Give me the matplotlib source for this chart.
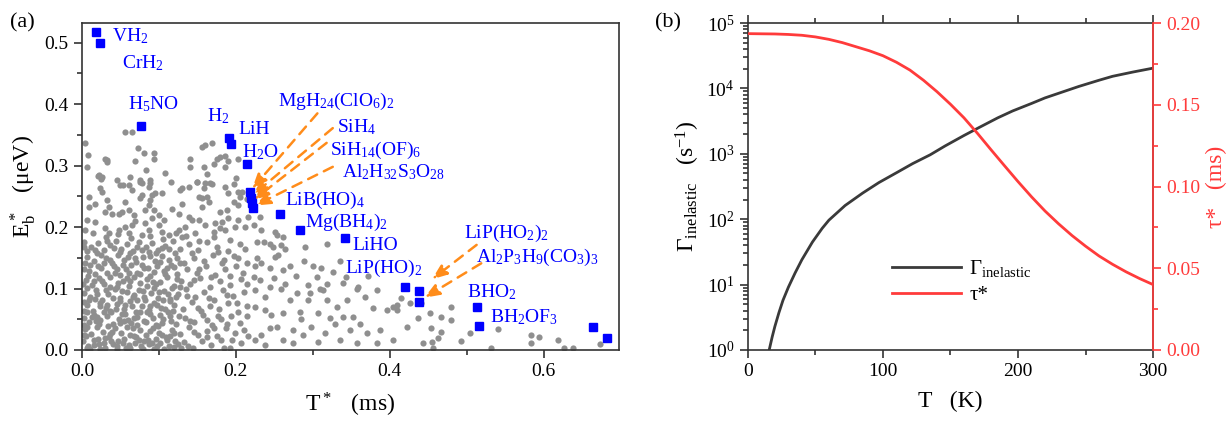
import numpy as np
import matplotlib
matplotlib.use('Agg')
import matplotlib.pyplot as plt
from matplotlib.ticker import MultipleLocator, LogLocator, NullFormatter, FormatStrFormatter

plt.rcParams['font.family'] = ['Liberation Serif', 'DejaVu Serif']
plt.rcParams['mathtext.fontset'] = 'custom'
plt.rcParams['mathtext.rm'] = 'Liberation Serif'
plt.rcParams['mathtext.it'] = 'Liberation Serif:italic'
plt.rcParams['mathtext.bf'] = 'Liberation Serif:bold'

# ---- panel (a): background candidates ----
bg_pts = [
    # upper left
    (0.004, 0.336), (0.008, 0.317), (0.006, 0.298), (0.021, 0.283), (0.025, 0.278), (0.032, 0.309),
    (0.056, 0.355), (0.065, 0.355), (0.073, 0.328), (0.080, 0.320), (0.093, 0.320), (0.069, 0.307),
    (0.083, 0.293), (0.093, 0.310), (0.108, 0.288), (0.062, 0.281), (0.075, 0.273), (0.088, 0.272),
    (0.116, 0.273), (0.053, 0.268), (0.046, 0.277), (0.140, 0.310), (0.140, 0.298), (0.130, 0.263),
    (0.150, 0.273), (0.156, 0.330), (0.160, 0.334), (0.169, 0.336), (0.158, 0.298), (0.162, 0.287),
    (0.171, 0.302), (0.175, 0.311), (0.179, 0.314), (0.186, 0.315), (0.190, 0.307), (0.186, 0.298),
    (0.169, 0.270), (0.186, 0.265), (0.203, 0.310), (0.200, 0.280), (0.198, 0.270), (0.190, 0.255),
    (0.203, 0.257), (0.030, 0.310), (0.032, 0.306), (0.022, 0.284), (0.026, 0.282),
    # middle left
    (0.024, 0.263), (0.026, 0.257), (0.009, 0.249), (0.009, 0.233), (0.017, 0.238), (0.032, 0.244),
    (0.035, 0.233), (0.030, 0.225), (0.039, 0.222), (0.017, 0.209), (0.006, 0.211), (0.004, 0.195),
    (0.030, 0.198), (0.035, 0.190), (0.050, 0.269), (0.061, 0.268), (0.056, 0.241), (0.052, 0.225),
    (0.061, 0.228), (0.048, 0.222), (0.067, 0.219), (0.069, 0.210), (0.065, 0.203), (0.056, 0.200),
    (0.048, 0.195), (0.061, 0.190), (0.076, 0.276), (0.078, 0.271), (0.089, 0.277), (0.087, 0.266),
    (0.065, 0.260), (0.078, 0.252), (0.076, 0.247), (0.091, 0.252), (0.095, 0.255), (0.104, 0.255),
    (0.089, 0.244), (0.087, 0.236), (0.082, 0.228), (0.093, 0.228), (0.100, 0.219), (0.091, 0.214),
    (0.082, 0.206), (0.100, 0.203), (0.106, 0.211), (0.087, 0.195), (0.104, 0.192), (0.078, 0.187),
    (0.117, 0.230), (0.126, 0.222), (0.128, 0.261), (0.139, 0.266), (0.130, 0.238), (0.139, 0.217),
    (0.143, 0.211), (0.134, 0.200), (0.126, 0.195), (0.152, 0.249), (0.156, 0.247), (0.162, 0.249),
    (0.165, 0.241), (0.149, 0.274), (0.160, 0.271), (0.167, 0.272), (0.158, 0.263), (0.156, 0.233),
    (0.152, 0.211), (0.160, 0.203), (0.180, 0.225), (0.188, 0.228), (0.197, 0.241), (0.206, 0.249),
    (0.208, 0.257), (0.203, 0.236), (0.214, 0.246), (0.203, 0.211), (0.190, 0.214), (0.182, 0.209),
    (0.173, 0.206), (0.180, 0.198), (0.186, 0.195), (0.199, 0.200), (0.212, 0.200), (0.216, 0.217),
    (0.171, 0.192), (0.147, 0.190), (0.113, 0.187), (0.130, 0.184),
    # dense lower left
    (0.003, 0.176), (0.012, 0.168), (0.021, 0.174), (0.028, 0.163), (0.036, 0.171), (0.044, 0.177),
    (0.051, 0.165), (0.058, 0.172), (0.066, 0.161), (0.074, 0.176), (0.083, 0.168), (0.091, 0.174),
    (0.099, 0.162), (0.108, 0.170), (0.118, 0.177), (0.127, 0.165), (0.139, 0.172), (0.151, 0.163),
    (0.163, 0.175), (0.176, 0.168), (0.190, 0.161), (0.205, 0.173), (0.212, 0.165),
    (0.006, 0.152), (0.015, 0.145), (0.019, 0.158), (0.031, 0.149), (0.039, 0.141), (0.047, 0.155),
    (0.055, 0.146), (0.062, 0.157), (0.070, 0.143), (0.079, 0.151), (0.087, 0.159), (0.095, 0.144),
    (0.104, 0.153), (0.113, 0.147), (0.121, 0.158), (0.133, 0.142), (0.145, 0.150), (0.158, 0.145),
    (0.170, 0.155), (0.184, 0.147), (0.197, 0.153), (0.215, 0.142),
    (0.002, 0.131), (0.010, 0.138), (0.017, 0.124), (0.025, 0.133), (0.033, 0.126), (0.041, 0.137),
    (0.049, 0.122), (0.057, 0.131), (0.064, 0.139), (0.072, 0.125), (0.081, 0.134), (0.089, 0.121),
    (0.097, 0.136), (0.106, 0.128), (0.116, 0.138), (0.124, 0.123), (0.137, 0.132), (0.149, 0.126),
    (0.161, 0.137), (0.173, 0.122), (0.186, 0.131), (0.200, 0.137), (0.209, 0.125),
    (0.005, 0.114), (0.013, 0.105), (0.022, 0.117), (0.029, 0.108), (0.037, 0.119), (0.045, 0.102),
    (0.053, 0.112), (0.061, 0.104), (0.068, 0.118), (0.076, 0.109), (0.085, 0.115), (0.093, 0.101),
    (0.102, 0.111), (0.110, 0.119), (0.119, 0.104), (0.129, 0.113), (0.141, 0.107), (0.154, 0.117),
    (0.167, 0.103), (0.179, 0.112), (0.193, 0.106), (0.207, 0.116),
    (0.003, 0.093), (0.011, 0.086), (0.018, 0.097), (0.026, 0.082), (0.034, 0.091), (0.043, 0.099),
    (0.050, 0.084), (0.059, 0.094), (0.066, 0.087), (0.074, 0.098), (0.082, 0.081), (0.090, 0.092),
    (0.099, 0.085), (0.107, 0.096), (0.115, 0.083), (0.125, 0.091), (0.135, 0.099), (0.147, 0.086),
    (0.159, 0.094), (0.171, 0.082), (0.183, 0.097), (0.196, 0.088), (0.210, 0.095),
    (0.007, 0.073), (0.014, 0.064), (0.023, 0.077), (0.031, 0.068), (0.038, 0.061), (0.046, 0.075),
    (0.054, 0.066), (0.063, 0.079), (0.070, 0.062), (0.078, 0.071), (0.087, 0.065), (0.094, 0.077),
    (0.103, 0.069), (0.112, 0.061), (0.120, 0.074), (0.131, 0.067), (0.143, 0.078), (0.155, 0.063),
    (0.166, 0.072), (0.178, 0.066), (0.190, 0.076), (0.203, 0.062), (0.214, 0.071),
    (0.002, 0.052), (0.009, 0.045), (0.016, 0.057), (0.024, 0.048), (0.032, 0.055), (0.040, 0.042),
    (0.048, 0.051), (0.056, 0.058), (0.064, 0.044), (0.071, 0.053), (0.080, 0.047), (0.088, 0.059),
    (0.096, 0.041), (0.105, 0.050), (0.114, 0.056), (0.122, 0.043), (0.134, 0.052), (0.146, 0.046),
    (0.157, 0.057), (0.169, 0.041), (0.181, 0.050), (0.194, 0.055), (0.206, 0.044),
    (0.004, 0.034), (0.012, 0.026), (0.019, 0.037), (0.027, 0.029), (0.035, 0.021), (0.043, 0.035),
    (0.051, 0.027), (0.058, 0.038), (0.067, 0.023), (0.075, 0.032), (0.083, 0.025), (0.092, 0.036),
    (0.100, 0.028), (0.109, 0.021), (0.117, 0.033), (0.128, 0.026), (0.139, 0.037), (0.151, 0.024),
    (0.163, 0.031), (0.175, 0.022), (0.187, 0.035), (0.199, 0.027), (0.211, 0.033),
    (0.001, 0.014), (0.008, 0.006), (0.015, 0.017), (0.022, 0.009), (0.030, 0.003), (0.038, 0.015),
    (0.046, 0.007), (0.054, 0.018), (0.062, 0.004), (0.069, 0.012), (0.077, 0.006), (0.086, 0.016),
    (0.094, 0.002), (0.102, 0.011), (0.111, 0.017), (0.120, 0.005), (0.132, 0.013), (0.144, 0.003),
    (0.156, 0.015), (0.168, 0.008), (0.181, 0.017), (0.193, 0.004), (0.207, 0.012),
    (0.007, 0.161), (0.025, 0.155), (0.042, 0.166), (0.060, 0.151), (0.078, 0.162), (0.096, 0.157),
    (0.113, 0.164), (0.004, 0.142), (0.021, 0.136), (0.037, 0.146), (0.053, 0.138), (0.069, 0.149),
    (0.086, 0.133), (0.102, 0.143), (0.119, 0.135), (0.008, 0.121), (0.026, 0.113), (0.043, 0.126),
    (0.059, 0.117), (0.076, 0.123), (0.092, 0.111), (0.108, 0.124), (0.124, 0.116), (0.006, 0.101),
    (0.020, 0.091), (0.036, 0.103), (0.052, 0.096), (0.068, 0.089), (0.084, 0.104), (0.100, 0.094),
    (0.117, 0.101), (0.003, 0.078), (0.017, 0.083), (0.033, 0.073), (0.049, 0.079), (0.065, 0.071),
    (0.081, 0.086), (0.098, 0.074), (0.114, 0.080), (0.006, 0.062), (0.020, 0.054), (0.036, 0.064),
    (0.052, 0.059), (0.068, 0.052), (0.085, 0.061), (0.101, 0.057), (0.118, 0.064), (0.003, 0.041),
    (0.018, 0.047), (0.034, 0.039), (0.050, 0.044), (0.066, 0.036), (0.083, 0.045), (0.099, 0.039),
    (0.116, 0.047), (0.005, 0.022), (0.021, 0.018), (0.037, 0.026), (0.053, 0.011), (0.070, 0.021),
    (0.087, 0.009), (0.104, 0.024), (0.121, 0.014), (0.011, 0.002), (0.028, 0.012), (0.045, 0.001),
    (0.061, 0.008), (0.079, 0.002), (0.096, 0.018), (0.113, 0.006),
    (0.014, 0.191), (0.031, 0.184), (0.047, 0.188), (0.064, 0.182), (0.089, 0.185), (0.105, 0.181),
    (0.122, 0.190), (0.002, 0.168), (0.017, 0.162), (0.033, 0.178), (0.049, 0.159), (0.072, 0.167),
    (0.088, 0.153), (0.104, 0.166), (0.123, 0.149), (0.009, 0.129), (0.028, 0.142), (0.045, 0.132),
    (0.061, 0.125), (0.078, 0.139), (0.094, 0.127), (0.111, 0.133), (0.127, 0.141), (0.001, 0.108),
    (0.016, 0.112), (0.031, 0.097), (0.047, 0.109), (0.063, 0.112), (0.079, 0.096), (0.096, 0.107),
    (0.112, 0.091), (0.128, 0.103), (0.009, 0.081), (0.024, 0.072), (0.040, 0.085), (0.056, 0.074),
    (0.072, 0.081), (0.089, 0.072), (0.105, 0.082), (0.122, 0.087), (0.002, 0.063), (0.013, 0.054),
    (0.028, 0.061), (0.044, 0.066), (0.060, 0.049), (0.076, 0.062), (0.092, 0.052), (0.108, 0.066),
    (0.126, 0.056), (0.007, 0.038), (0.022, 0.043), (0.039, 0.029), (0.055, 0.047), (0.071, 0.041),
    (0.088, 0.031), (0.104, 0.044), (0.119, 0.028), (0.003, 0.024), (0.016, 0.008), (0.030, 0.019),
    (0.047, 0.014), (0.063, 0.025), (0.080, 0.014), (0.098, 0.006), (0.115, 0.022), (0.129, 0.004),
    (0.006, 0.004), (0.024, 0.002), (0.040, 0.009), (0.057, 0.003), (0.074, 0.016), (0.091, 0.011),
    (0.107, 0.001), (0.125, 0.009),
    (0.135, 0.185), (0.152, 0.178), (0.171, 0.184), (0.192, 0.179), (0.143, 0.158), (0.177, 0.160),
    (0.203, 0.150), (0.152, 0.131), (0.182, 0.141), (0.193, 0.120), (0.145, 0.114), (0.168, 0.119),
    (0.215, 0.108), (0.137, 0.088), (0.165, 0.085), (0.189, 0.090), (0.151, 0.069), (0.177, 0.055),
    (0.201, 0.076), (0.140, 0.047), (0.162, 0.048), (0.188, 0.043), (0.214, 0.056), (0.146, 0.029),
    (0.172, 0.035), (0.195, 0.016), (0.138, 0.007), (0.163, 0.021), (0.185, 0.004), (0.216, 0.022),
    # middle
    (0.231, 0.217), (0.223, 0.203), (0.233, 0.195), (0.251, 0.192), (0.253, 0.187), (0.261, 0.184),
    (0.227, 0.176), (0.236, 0.176), (0.244, 0.173), (0.248, 0.168), (0.259, 0.171), (0.264, 0.165),
    (0.255, 0.154), (0.227, 0.149), (0.233, 0.141), (0.251, 0.152), (0.290, 0.168), (0.318, 0.173),
    (0.335, 0.144), (0.300, 0.136), (0.311, 0.133), (0.326, 0.127), (0.270, 0.136), (0.261, 0.130),
    (0.244, 0.133), (0.225, 0.136), (0.223, 0.119), (0.231, 0.114), (0.249, 0.117), (0.264, 0.108),
    (0.259, 0.100), (0.244, 0.103), (0.225, 0.098), (0.305, 0.119), (0.309, 0.100), (0.313, 0.098),
    (0.294, 0.106), (0.318, 0.108), (0.359, 0.103), (0.383, 0.098), (0.368, 0.087), (0.344, 0.081),
    (0.331, 0.070), (0.318, 0.081), (0.294, 0.081), (0.279, 0.092), (0.270, 0.081), (0.238, 0.065),
    (0.246, 0.057), (0.225, 0.070), (0.261, 0.060), (0.283, 0.062), (0.307, 0.060), (0.322, 0.052),
    (0.339, 0.054), (0.352, 0.054), (0.361, 0.043), (0.378, 0.068), (0.396, 0.065), (0.404, 0.070),
    (0.409, 0.065), (0.415, 0.084), (0.426, 0.076), (0.437, 0.052), (0.452, 0.060), (0.467, 0.054),
    (0.422, 0.038), (0.387, 0.032), (0.370, 0.027), (0.348, 0.032), (0.329, 0.043), (0.316, 0.027),
    (0.298, 0.038), (0.287, 0.024), (0.274, 0.032), (0.261, 0.016), (0.253, 0.038), (0.244, 0.035),
    (0.233, 0.024), (0.225, 0.016), (0.238, 0.008), (0.274, 0.011), (0.307, 0.013), (0.335, 0.016),
    (0.357, 0.011), (0.383, 0.011), (0.404, 0.016), (0.443, 0.011), (0.454, 0.035), (0.463, 0.019),
    (0.456, 0.003), (0.441, 0.076), (0.339, 0.109), (0.343, 0.118), (0.358, 0.100), (0.409, 0.073),
    (0.372, 0.121), (0.288, 0.145), (0.278, 0.121), (0.296, 0.092), (0.238, 0.087), (0.285, 0.050),
    # right tail
    (0.480, 0.048), (0.467, 0.030), (0.493, 0.015), (0.532, 0.004), (0.541, 0.034), (0.584, 0.025),
    (0.594, 0.021), (0.584, 0.011), (0.619, 0.016), (0.627, 0.003), (0.638, 0.003), (0.673, 0.010),
    (0.455, 0.013), (0.480, 0.070), (0.505, 0.028),
]
bg_x = [p[0] for p in bg_pts]
bg_y = [p[1] for p in bg_pts]

# highlighted molecules
mol_x = [0.018, 0.023, 0.077, 0.191, 0.194, 0.214, 0.219, 0.220, 0.221, 0.222,
         0.258, 0.284, 0.342, 0.420, 0.438, 0.438, 0.513, 0.516, 0.664, 0.683]
mol_y = [0.517, 0.499, 0.364, 0.345, 0.335, 0.302, 0.257, 0.248, 0.239, 0.231,
         0.221, 0.195, 0.182, 0.103, 0.096, 0.078, 0.070, 0.039, 0.038, 0.020]

mol_labels = [r'VH$_2$', r'CrH$_2$', r'H$_5$NO', r'H$_2$', r'LiH', r'H$_2$O',
              r'MgH$_{24}$(ClO$_6$)$_2$', r'SiH$_4$', r'SiH$_{14}$(OF)$_6$',
              r'Al$_2$H$_{32}$S$_3$O$_{28}$', r'LiB(HO)$_4$', r'Mg(BH$_4$)$_2$',
              r'LiHO', r'LiP(HO)$_2$', r'LiP(HO$_2$)$_2$', r'Al$_2$P$_3$H$_9$(CO$_3$)$_3$',
              r'BHO$_2$', r'BH$_2$OF$_3$']
label_pos = [(0.039, 0.511), (0.052, 0.467), (0.060, 0.400), (0.162, 0.380), (0.203, 0.358),
             (0.208, 0.322), (0.255, 0.405), (0.331, 0.363), (0.322, 0.325), (0.338, 0.289),
             (0.264, 0.244), (0.290, 0.208), (0.351, 0.170), (0.342, 0.133), (0.497, 0.190),
             (0.512, 0.150), (0.501, 0.094), (0.530, 0.053)]

# (start, tip) of the dashed arrows
arrows = [((0.306, 0.385), (0.221, 0.262)), ((0.326, 0.361), (0.222, 0.252)),
          ((0.318, 0.337), (0.223, 0.244)), ((0.326, 0.298), (0.225, 0.235)),
          ((0.513, 0.171), (0.455, 0.115)), ((0.519, 0.141), (0.445, 0.085))]

# ---- panel (b) ----
T_gam = [15.8, 18, 20, 23, 26, 30, 35, 40, 47.8, 55, 60, 72, 85, 97, 110, 122, 135, 146,
         160, 171, 185, 196, 210, 220, 235, 245, 260, 270, 285, 300]
gamma = [1.0, 1.58, 2.29, 3.72, 5.75, 9.12, 15.1, 24.0, 44.7, 72.4, 96.6, 162, 251, 363,
         513, 708, 966, 1318, 1905, 2512, 3548, 4519, 5888, 7161, 9120, 10715, 13335,
         15311, 17783, 20417]
T_tau = [0, 10, 20, 30, 40, 50, 60, 70, 80, 90, 100, 110, 120, 130, 140, 150, 160, 170,
         180, 190, 200, 210, 220, 230, 240, 250, 260, 270, 280, 290, 300]
tau = [0.1935, 0.1934, 0.1933, 0.1930, 0.1925, 0.1915, 0.1900, 0.1880, 0.1855, 0.1830,
       0.1800, 0.1760, 0.1712, 0.1650, 0.1580, 0.1503, 0.1420, 0.1325, 0.1225, 0.1127,
       0.1030, 0.0937, 0.0850, 0.0772, 0.0700, 0.0635, 0.0575, 0.0524, 0.0478, 0.0437, 0.0400]

fig = plt.figure(figsize=(12.28, 4.23), dpi=100)
ax = fig.add_axes([0.0668, 0.1726, 0.4372, 0.773])
ax2 = fig.add_axes([0.609, 0.1726, 0.330, 0.773])

spine_c = '#333333'
for a in (ax, ax2):
    for s in a.spines.values():
        s.set_color(spine_c)
        s.set_linewidth(1.2)

ax.scatter(bg_x, bg_y, s=20, color='#8f8f8f', linewidths=0, zorder=2)
ax.plot(mol_x, mol_y, 's', color='#0000ff', ms=6, zorder=4)
for lab, (lx, ly) in zip(mol_labels, label_pos):
    ax.text(lx, ly, lab, color='#0000ff', fontsize=14, ha='left', va='center', zorder=5)
for (sx, sy), (ex, ey) in arrows:
    ax.annotate('', xy=(ex, ey), xytext=(sx, sy),
                arrowprops=dict(arrowstyle='-|>,head_length=0.9,head_width=0.35', color='#ff8c1a',
                                lw=1.8, linestyle=(0, (4, 3)), shrinkA=0, shrinkB=0), zorder=3)

ax.set_xlim(0, 0.698)
ax.set_ylim(0, 0.532)
ax.xaxis.set_major_locator(MultipleLocator(0.2))
ax.xaxis.set_minor_locator(MultipleLocator(0.1))
ax.yaxis.set_major_locator(MultipleLocator(0.1))
ax.yaxis.set_minor_locator(MultipleLocator(0.05))
ax.xaxis.set_major_formatter(FormatStrFormatter('%.1f'))
ax.yaxis.set_major_formatter(FormatStrFormatter('%.1f'))
ax.tick_params(which='both', direction='out', labelsize=14, color=spine_c, width=1.2)
ax.tick_params(which='major', length=6)
ax.tick_params(which='minor', length=3.5)
ax.set_xlabel(r'T$^*$   (ms)', fontsize=17, labelpad=8)
ax.set_ylabel(r'E$_\mathrm{b}^*$   ($\mathrm{\mu}$eV)', fontsize=17, labelpad=5)

# panel (b)
ax2.plot(T_gam, gamma, color='#3a3a3a', lw=2, label=r'$\Gamma_{\mathrm{inelastic}}$')
ax2.set_yscale('log')
ax2.set_xlim(0, 300)
ax2.set_ylim(1, 1e5)
ax2.xaxis.set_major_locator(MultipleLocator(100))
ax2.xaxis.set_minor_locator(MultipleLocator(50))
ax2.yaxis.set_major_locator(LogLocator(base=10, numticks=10))
ax2.yaxis.set_minor_locator(LogLocator(base=10, subs=np.arange(2, 10), numticks=10))
ax2.yaxis.set_minor_formatter(NullFormatter())
ax2.tick_params(which='both', direction='out', labelsize=14, color=spine_c, width=1.2)
ax2.tick_params(axis='x', which='both', top=True, labeltop=False)
ax2.tick_params(which='major', length=6)
ax2.tick_params(which='minor', length=3.5)
ax2.set_xlabel('T   (K)', fontsize=17, labelpad=8)
ax2.set_ylabel(r'$\Gamma_{\mathrm{inelastic}}$   (s$^{-1}$)', fontsize=17, labelpad=3)

ax3 = ax2.twinx()
red = '#ff3b3b'
ax3.plot(T_tau, tau, color=red, lw=2, label='τ*')
ax3.set_ylim(0, 0.2)
ax3.yaxis.set_major_locator(MultipleLocator(0.05))
ax3.yaxis.set_minor_locator(MultipleLocator(0.025))
ax3.yaxis.set_major_formatter(FormatStrFormatter('%.2f'))
ax3.tick_params(which='both', direction='out', labelsize=14, color=red, labelcolor=red, width=1.2)
ax3.tick_params(which='major', length=6)
ax3.tick_params(which='minor', length=3.5)
ax3.spines['right'].set_color(red)
ax3.spines['right'].set_linewidth(1.2)
for k in ('left', 'top', 'bottom'):
    ax3.spines[k].set_visible(False)
ax3.set_ylabel('τ*   (ms)', fontsize=17, color=red, labelpad=4)

h1, l1 = ax2.get_legend_handles_labels()
h2, l2 = ax3.get_legend_handles_labels()
ax3.legend(h1 + h2, l1 + l2, loc='lower left', bbox_to_anchor=(0.31, 0.08), frameon=False,
           fontsize=15, handlelength=3.3, handletextpad=0.4, labelspacing=0.3)

fig.text(0.008, 0.935, '(a)', fontsize=16)
fig.text(0.533, 0.935, '(b)', fontsize=16)

fig.savefig('out.png', dpi=100)
